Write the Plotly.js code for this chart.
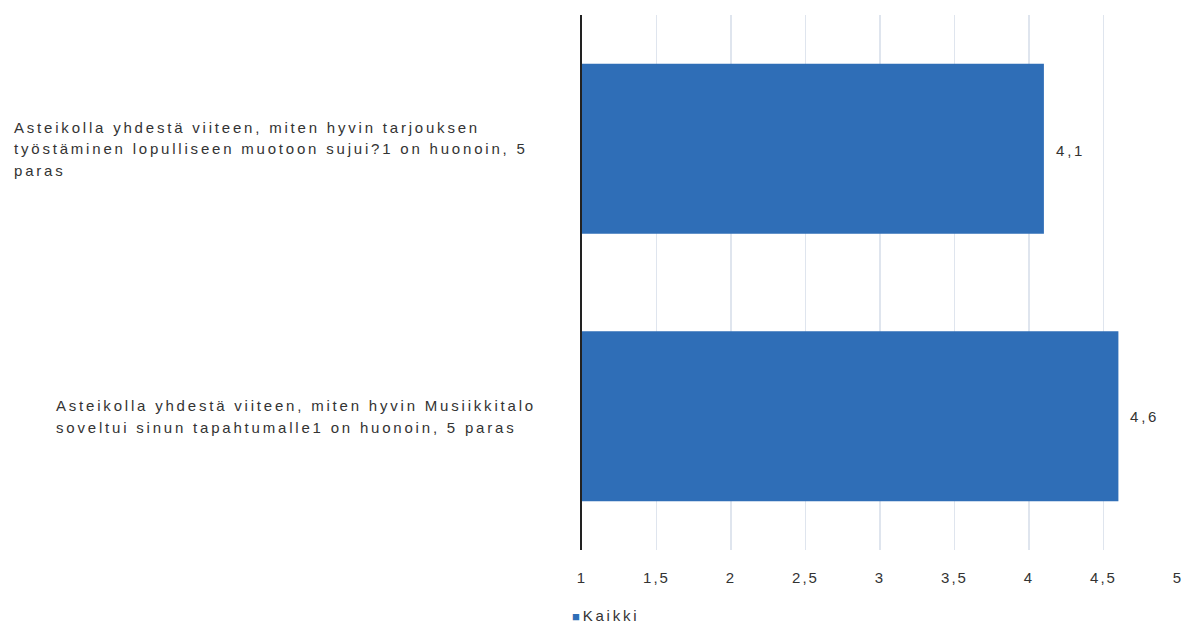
<!DOCTYPE html>
<html>
<head>
<meta charset="utf-8">
<script src="https://cdn.plot.ly/plotly-3.0.1.min.js"></script>
<style>
  html, body { margin: 0; padding: 0; background: #fff; }
  svg text { letter-spacing: 2.8px; }
  svg .xtick text { letter-spacing: 2px; }
</style>
</head>
<body>
<div id="chart" style="width:1185px;height:623px;"></div>
<script>
// Data
const categories = ["Q1", "Q2"];
const labelLines = [
  ["Asteikolla yhdestä viiteen, miten hyvin tarjouksen",
   "työstäminen lopulliseen muotoon sujui?1 on huonoin, 5",
   "paras"],
  ["Asteikolla yhdestä viiteen, miten hyvin Musiikkitalo",
   "soveltui sinun tapahtumalle1 on huonoin, 5 paras"]
];
const values = [4.1, 4.6];
const valueLabels = ["4,1", "4,6"];
const seriesName = "Kaikki";

const barColor = "#2f6eb7";
const textColor = "#333333";
const fontFamily = "Liberation Sans, Arial, sans-serif";

const trace = {
  type: "bar",
  orientation: "h",
  name: seriesName,
  y: categories,
  x: values.map(v => v - 1),
  base: 1,
  width: 0.635,
  marker: { color: barColor, line: { width: 0 } },
  hoverinfo: "x",
  showlegend: false
};

const plotLeft = 582, plotWidth = 1185 - 582 - 7;
const annotations = [];
const labelLeft = [12, 54];
const lineGap = 21.5;
labelLines.forEach((lines, ci) => {
  lines.forEach((ln, li) => {
    annotations.push({
      xref: "paper", yref: "y",
      x: (labelLeft[ci] - plotLeft) / plotWidth, y: categories[ci],
      xanchor: "left", yanchor: "middle", align: "left",
      yshift: -(li - (lines.length - 1) / 2) * lineGap,
      text: ln, showarrow: false,
      font: { family: fontFamily, size: 15, color: textColor }
    });
  });
});
const valShift = [-2, 0];
values.forEach((v, i) => {
  annotations.push({
    xref: "x", yref: "y", x: v, y: categories[i],
    xanchor: "left", yanchor: "middle", xshift: 10, yshift: valShift[i],
    text: valueLabels[i], showarrow: false,
    font: { family: fontFamily, size: 15, color: textColor }
  });
});
// legend
annotations.push({
  xref: "paper", yref: "paper", x: (570 - plotLeft) / plotWidth, y: -0.122,
  xanchor: "left", yanchor: "middle", showarrow: false,
  text: '<span style="color:' + barColor + ';font-size:13px">■</span>' + seriesName,
  font: { family: fontFamily, size: 15, color: textColor }
});

const layout = {
  width: 1185, height: 623,
  margin: { l: plotLeft, r: 7, t: 15, b: 73 },
  paper_bgcolor: "#ffffff", plot_bgcolor: "#ffffff",
  separators: ", ",
  showlegend: false,
  font: { family: fontFamily, size: 15, color: textColor },
  xaxis: {
    range: [1, 5], dtick: 0.5, tick0: 1,
    showgrid: true, gridcolor: "#dfe5ee", gridwidth: 1.5,
    zeroline: false, showline: false, ticks: "",
    tickfont: { size: 15, color: textColor },
    ticklabelstandoff: 17, ticklabeloverflow: "allow", fixedrange: true
  },
  yaxis: {
    type: "category", autorange: "reversed",
    showticklabels: false, showgrid: false, zeroline: false,
    showline: true, linecolor: "#222222", linewidth: 2, ticks: "",
    range: [1.5, -0.5]
  },
  annotations: annotations
};
Plotly.newPlot("chart", [trace], layout, { displayModeBar: false, staticPlot: true });
</script>
</body>
</html>
